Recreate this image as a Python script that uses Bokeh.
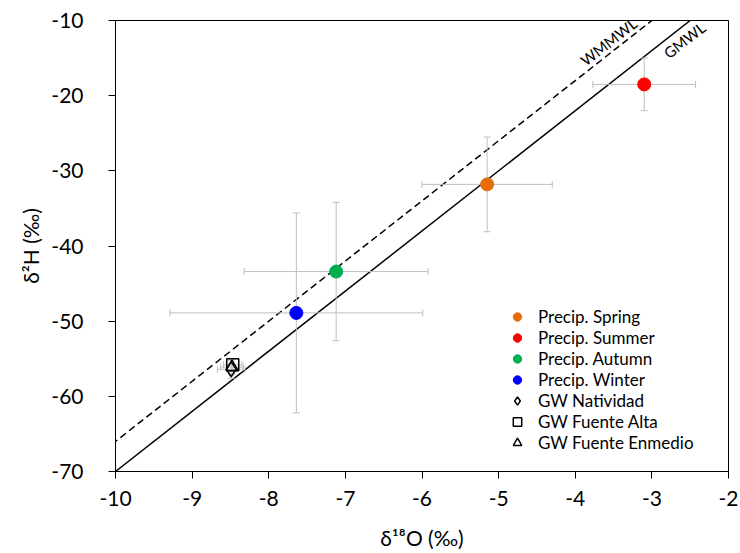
from bokeh.plotting import figure
from bokeh.models import (Range1d, FixedTicker, Whisker, TeeHead, ColumnDataSource,
                          Slope, Legend, LegendItem, Label)
from bokeh.embed import file_html
from bokeh.resources import INLINE

# ---- data ----
seasons = ["Precip. Spring", "Precip. Summer", "Precip. Autumn", "Precip. Winter"]
season_colors = ["#E46C0A", "#FF0000", "#00B050", "#0000FF"]
season_d18O = [-5.15, -3.10, -7.12, -7.64]
season_d2H = [-31.8, -18.5, -43.4, -48.9]
season_d18O_err = [0.85, 0.67, 1.20, 1.65]
season_d2H_err = [6.3, 3.5, 9.2, 13.3]

gw_names = ["GW Natividad", "GW Fuente Alta", "GW Fuente Enmedio"]
gw_markers = ["diamond", "square", "triangle"]
gw_d18O = [-8.49, -8.47, -8.48]
gw_d2H = [-56.4, -55.8, -56.1]
gw_d18O_err = [0.18, 0.12, 0.15]
gw_d2H_err = [1.2, 0.8, 1.0]

# meteoric water lines: d2H = slope * d18O + intercept
lines = ["GMWL", "WMMWL"]
line_slope = [8.0, 8.0]
line_intercept = [10.0, 14.0]
line_dash = ["solid", "7 4"]

x_ticks = [-10, -9, -8, -7, -6, -5, -4, -3, -2]
y_ticks = [-70, -60, -50, -40, -30, -20, -10]

FONT = "Lato"
GREY = "#BFBFBF"

p = figure(width=740, height=553, output_backend="svg", toolbar_location=None,
           x_range=Range1d(-10, -2), y_range=Range1d(-70, -10),
           min_border_left=115, min_border_right=12, min_border_top=20,
           min_border_bottom=82)
p.grid.visible = False
p.outline_line_color = "black"
p.outline_line_width = 1
p.outline_line_alpha = 1

p.xaxis.ticker = FixedTicker(ticks=x_ticks)
p.yaxis.ticker = FixedTicker(ticks=y_ticks)
p.xaxis.major_label_overrides = {t: str(t) for t in x_ticks}
p.yaxis.major_label_overrides = {t: str(t) for t in y_ticks}
p.xaxis.axis_label = "δ¹⁸O (‰)"
p.yaxis.axis_label = "δ²H (‰)"
for ax in [p.xaxis[0], p.yaxis[0]]:
    ax.axis_line_color = "black"
    ax.major_tick_line_color = "black"
    ax.major_tick_out = 7
    ax.major_tick_in = 0
    ax.minor_tick_line_color = None
    ax.major_label_text_font = FONT
    ax.major_label_text_font_size = "21px"
    ax.major_label_text_color = "black"
    ax.axis_label_text_font = FONT
    ax.axis_label_text_font_size = "21px"
    ax.axis_label_text_font_style = "normal"
    ax.axis_label_text_color = "black"
p.xaxis.major_label_standoff = 12
p.xaxis.axis_label_standoff = 16
p.yaxis.major_label_standoff = 25
p.yaxis.axis_label_standoff = 5

# meteoric water lines
for name, m, b, d in zip(lines, line_slope, line_intercept, line_dash):
    p.add_layout(Slope(gradient=m, y_intercept=b, line_color="black",
                       line_width=1.5, line_dash=d, level="underlay"))

# line labels (positions in data coordinates)
p.add_layout(Label(x=-2.575, y=-12.6, text="GMWL", angle=38, angle_units="deg",
                   text_align="center", text_baseline="middle",
                   text_font=FONT, text_font_size="15px", text_color="black"))
p.add_layout(Label(x=-3.566, y=-12.8, text="WMMWL", angle=38, angle_units="deg",
                   text_align="center", text_baseline="middle",
                   text_font=FONT, text_font_size="15px", text_color="black"))

# error bars
def add_err(xs, ys, xe, ye):
    src = ColumnDataSource(dict(
        x=xs, y=ys,
        xl=[a - e for a, e in zip(xs, xe)], xu=[a + e for a, e in zip(xs, xe)],
        yl=[a - e for a, e in zip(ys, ye)], yu=[a + e for a, e in zip(ys, ye)]))
    p.add_layout(Whisker(source=src, base="y", lower="xl", upper="xu",
                         dimension="width", line_color=GREY, line_width=1,
                         lower_head=TeeHead(size=7, line_color=GREY, line_width=1),
                         upper_head=TeeHead(size=7, line_color=GREY, line_width=1)))
    p.add_layout(Whisker(source=src, base="x", lower="yl", upper="yu",
                         dimension="height", line_color=GREY, line_width=1,
                         lower_head=TeeHead(size=7, line_color=GREY, line_width=1),
                         upper_head=TeeHead(size=7, line_color=GREY, line_width=1)))

add_err(season_d18O, season_d2H, season_d18O_err, season_d2H_err)
add_err(gw_d18O, gw_d2H, gw_d18O_err, gw_d2H_err)

items = []
for i, name in enumerate(seasons):
    r = p.scatter([season_d18O[i]], [season_d2H[i]], marker="circle", size=13,
                  fill_color=season_colors[i], line_color=season_colors[i])
    items.append(LegendItem(label=name, renderers=[r]))

gw_sizes = [15, 12, 12]
for i, name in enumerate(gw_names):
    r = p.scatter([gw_d18O[i]], [gw_d2H[i]], marker=gw_markers[i], size=gw_sizes[i],
                  fill_color=None, line_color="black", line_width=1.5)
    items.append(LegendItem(label=name, renderers=[r]))

legend = Legend(items=items, location=(391, 18), label_text_font=FONT,
                label_text_font_size="17px", label_text_color="black",
                glyph_width=22, glyph_height=21, label_height=21, spacing=0,
                padding=5, label_standoff=10, border_line_color=None,
                background_fill_alpha=0, margin=0)
p.add_layout(legend)

open("out.html", "w").write(file_html(p, INLINE))
